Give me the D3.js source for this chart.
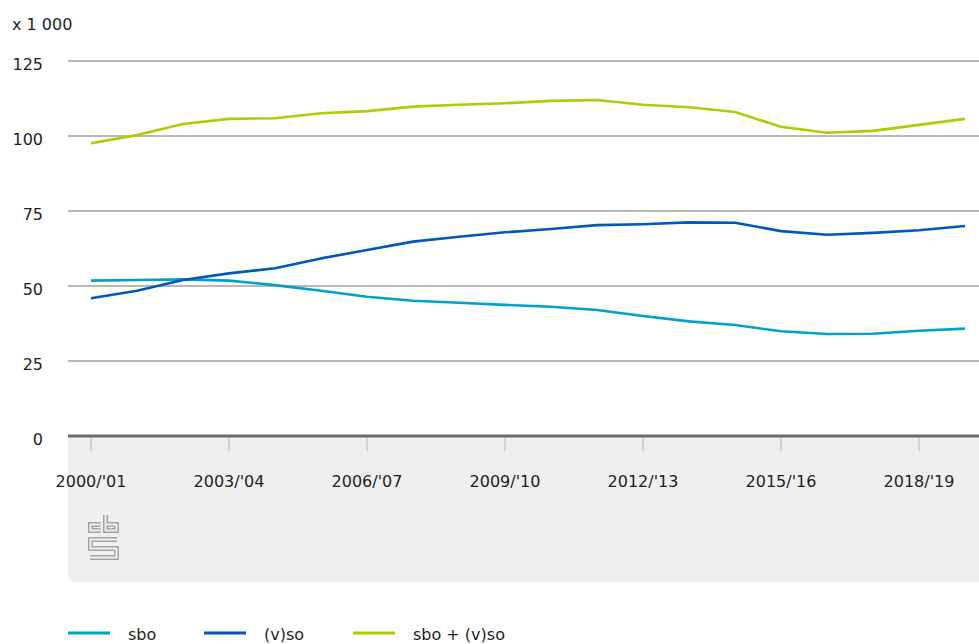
<!DOCTYPE html>
<html>
<head>
<meta charset="utf-8">
<script src="https://cdn.jsdelivr.net/npm/d3@7/dist/d3.min.js"></script>
<style>
  html, body { margin: 0; padding: 0; background: #fff; }
  svg { display: block; }
  text { font-family: "DejaVu Sans", sans-serif; fill: #1e1e1e; }
</style>
</head>
<body>
<svg id="chart" width="979" height="644"></svg>
<script>
const categories = ["2000/'01","2001/'02","2002/'03","2003/'04","2004/'05","2005/'06","2006/'07","2007/'08","2008/'09","2009/'10","2010/'11","2011/'12","2012/'13","2013/'14","2014/'15","2015/'16","2016/'17","2017/'18","2018/'19","2019/'20"];
const tickLabels = ["2000/'01","2003/'04","2006/'07","2009/'10","2012/'13","2015/'16","2018/'19"];
const yTicks = [0, 25, 50, 75, 100, 125];
const sbo   = [51.8, 52.0, 52.2, 51.8, 50.3, 48.4, 46.4, 45.1, 44.4, 43.7, 43.1, 42.0, 40.0, 38.2, 37.0, 34.9, 34.0, 34.1, 35.1, 35.8];
const vso   = [45.9, 48.4, 52.0, 54.2, 55.9, 59.2, 62.0, 64.8, 66.4, 67.9, 69.0, 70.3, 70.6, 71.2, 71.1, 68.3, 67.1, 67.7, 68.6, 70.0];
const total = [97.6, 100.3, 104.0, 105.7, 105.9, 107.6, 108.3, 109.8, 110.4, 110.9, 111.7, 112.0, 110.4, 109.6, 108.0, 103.1, 101.1, 101.7, 103.7, 105.7];
const seriesNames = ["sbo", "(v)so", "sbo + (v)so"];
const seriesColors = ["#00a1cd", "#0058b8", "#afcb05"];
const seriesData = [sbo, vso, total];

const svg = d3.select("#chart");
const W = 979;
const left = 68;
const FS = "16px";
const x = d3.scalePoint().domain(categories).range([91, 965]);
const y = d3.scaleLinear().domain([0, 125]).range([436, 61]);

// grey panel under axis
svg.append("path")
  .attr("d", `M${left},437 H${W} V582 H${left + 8} Q${left},582 ${left},574 Z`)
  .attr("fill", "#efefef");

// gridlines
svg.append("g").selectAll("line")
  .data(yTicks.filter(d => d > 0))
  .join("line")
  .attr("x1", left).attr("x2", W)
  .attr("y1", d => y(d)).attr("y2", d => y(d))
  .attr("stroke", "#727272").attr("stroke-width", 1.2);

// y labels
svg.append("g").selectAll("text")
  .data(yTicks)
  .join("text")
  .attr("x", 43).attr("y", d => y(d) + 8.5)
  .attr("text-anchor", "end")
  .attr("font-size", FS)
  .text(d => d);

svg.append("text").attr("x", 12).attr("y", 30).attr("font-size", FS).text("x 1 000");

// x ticks
const xAxisG = svg.append("g");
xAxisG.selectAll("line")
  .data(tickLabels)
  .join("line")
  .attr("x1", d => x(d)).attr("x2", d => x(d))
  .attr("y1", 437).attr("y2", 451)
  .attr("stroke", "#c8c8c8").attr("stroke-width", 1.5);
xAxisG.selectAll("text")
  .data(tickLabels)
  .join("text")
  .attr("x", d => x(d)).attr("y", 486.5)
  .attr("text-anchor", "middle")
  .attr("font-size", FS)
  .text(d => d);

// baseline
svg.append("line")
  .attr("x1", left).attr("x2", W)
  .attr("y1", y(0)).attr("y2", y(0))
  .attr("stroke", "#6b6b6b").attr("stroke-width", 3.2);

// lines
const line = d3.line().x((d, i) => x(categories[i])).y(d => y(d));
svg.append("g").selectAll("path")
  .data(seriesData)
  .join("path")
  .attr("d", d => line(d))
  .attr("fill", "none")
  .attr("stroke", (d, i) => seriesColors[i])
  .attr("stroke-width", 2.6)
  .attr("stroke-linejoin", "round");

// cbs logo (outlined via double stroke)
const logoPaths = [
  "M100.5,524.5 H90.5 V530.5 H100.5",
  "M105.5,515 V530.5 H116.5 V524.5 H105.5",
  "M110.5,527.5 H112",
  "M117,539.5 H90.5 V548.5 H116.5 V557.5 H90"
];
const logo = svg.append("g");
logoPaths.forEach(p => {
  logo.append("path").attr("d", p).attr("fill", "none")
    .attr("stroke", "#a3a3a3").attr("stroke-width", 5).attr("stroke-linejoin", "miter");
});
logoPaths.forEach(p => {
  logo.append("path").attr("d", p).attr("fill", "none")
    .attr("stroke", "#efefef").attr("stroke-width", 2).attr("stroke-linejoin", "miter");
});

// legend
const legendX = [68, 204, 353];
const lg = svg.append("g").selectAll("g")
  .data(seriesNames)
  .join("g");
lg.append("line")
  .attr("x1", (d, i) => legendX[i]).attr("x2", (d, i) => legendX[i] + 42)
  .attr("y1", 633).attr("y2", 633)
  .attr("stroke", (d, i) => seriesColors[i]).attr("stroke-width", 3);
lg.append("text")
  .attr("x", (d, i) => legendX[i] + 60).attr("y", 640)
  .attr("font-size", FS)
  .text(d => d);
</script>
</body>
</html>
